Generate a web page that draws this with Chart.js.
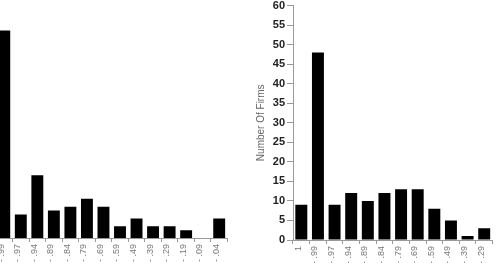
<!DOCTYPE html>
<html>
<head>
<meta charset="utf-8">
<script src="https://cdn.jsdelivr.net/npm/chart.js@4.4.0/dist/chart.umd.min.js"></script>
<style>
html,body{margin:0;padding:0;background:#fff;}
body{width:498px;height:263px;overflow:hidden;position:relative;}
.box{position:absolute;height:300px;}
</style>
</head>
<body>
<div class="box" style="left:-4px;top:0;width:236px;"><canvas id="cl"></canvas></div>
<div class="box" style="left:250px;top:-3px;width:247px;"><canvas id="cr"></canvas></div>
<script>
// Left histogram (partly cut off at the left edge)
const leftCategories = ['- .99','- .97','- .94','- .89','- .84','- .79','- .69','- .59','- .49','- .39','- .29','- .19','- .09','- .04'];
const leftCounts = [53, 6, 16, 7, 8, 10, 8, 3, 5, 3, 3, 2, 0, 5];

// Right histogram (cut off at the right edge)
const rightCategories = ['1','- .99','- .97','- .94','- .89','- .84','- .79','- .69','- .59','- .49','- .39','- .29'];
const rightCounts = [9, 48, 9, 12, 10, 12, 13, 13, 8, 5, 1, 3];

const yMin = 0, yMax = 60, yStep = 5;
const yTitle = 'Number Of Firms';

const AXIS = '#999';
const FONT = 'Liberation Sans, Arial, sans-serif';

function xScale(bottomY, canvasH) {
  return {
    type: 'category',
    offset: true,
    grid: { display: true, drawOnChartArea: false, drawTicks: true, tickLength: 4, color: AXIS, offset: true },
    border: { display: true, color: AXIS, width: 1 },
    ticks: { minRotation: 90, maxRotation: 90, autoSkip: false, color: '#777',
             font: { size: 9, family: FONT }, padding: 2, labelOffset: -3 },
    afterFit: s => { s.height = canvasH - bottomY; }
  };
}

function makeChart(id, labels, data, showY, bottomY, topPad) {
  const yScale = {
    min: yMin, max: yMax,
    display: showY,
    grid: { drawOnChartArea: false, drawTicks: true, tickLength: 6, color: AXIS },
    border: { display: true, color: AXIS, width: 1 },
    ticks: { stepSize: yStep, color: '#222', font: { size: 11, family: FONT, weight: 'bold' }, padding: 2 },
    title: { display: true, text: yTitle, color: '#666', font: { size: 10, family: FONT }, padding: { top: 5, bottom: 4 } }
  };
  if (showY) yScale.afterFit = s => { s.width = 43; };
  return new Chart(document.getElementById(id), {
    type: 'bar',
    data: { labels: labels, datasets: [{ data: data, backgroundColor: '#000', borderWidth: 0,
             barPercentage: 0.72, categoryPercentage: 1 }] },
    options: {
      responsive: true, maintainAspectRatio: false, animation: false,
      layout: { padding: { top: topPad, left: 0, right: 0, bottom: 0 } },
      plugins: { legend: { display: false }, tooltip: { enabled: false } },
      scales: { x: xScale(bottomY, 300), y: yScale }
    }
  });
}

makeChart('cl', leftCategories, leftCounts, false, 238, 3);
makeChart('cr', rightCategories, rightCounts, true, 243, 0);
</script>
</body>
</html>
